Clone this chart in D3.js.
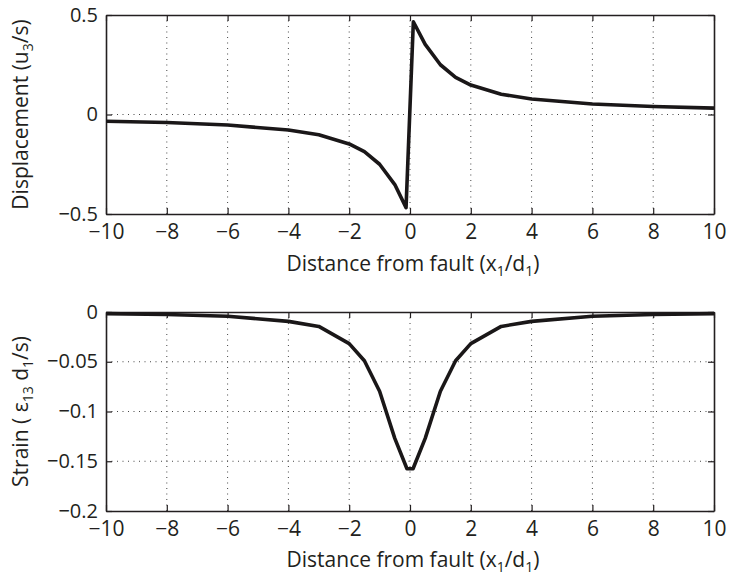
<!DOCTYPE html>
<html><head><meta charset="utf-8">
<script src="https://cdn.jsdelivr.net/npm/d3@7"></script>
<style>body{margin:0;background:#fff}svg{display:block}text{font-family:"Open Sans",sans-serif;fill:#231f20}</style>
</head><body><svg id="c" width="730" height="577"></svg>
<script>
const xVals = [-10,-8,-6,-4,-3,-2,-1.5,-1,-0.5,-0.13,0.11,0.5,1,1.5,2,3,4,6,8,10];
const dispVals = [-0.034,-0.040,-0.053,-0.078,-0.102,-0.148,-0.187,-0.25,-0.352,-0.468,0.466,0.352,0.25,0.187,0.148,0.102,0.078,0.053,0.040,0.032];
const strainX = [-10,-8,-6,-4,-3,-2,-1.5,-1,-0.5,-0.1,0.1,0.5,1,1.5,2,3,4,6,8,10];
const strainVals = [-0.0016,-0.0025,-0.0043,-0.0094,-0.0145,-0.0318,-0.049,-0.0796,-0.127,-0.1575,-0.1575,-0.127,-0.0796,-0.049,-0.0318,-0.0145,-0.0094,-0.0043,-0.0025,-0.0016];
const xTicks = [-10,-8,-6,-4,-2,0,2,4,6,8,10];
const dispTicks = [-0.5,0,0.5];
const strainTicks = [-0.2,-0.15,-0.1,-0.05,0];
const xLabel = "Distance from fault";

const svg = d3.select("#c");
const fmt = v => (v<0?"\u2212":"") + String(Math.abs(v));
const LAB = 21, SUB = 14;

function panel(top, bottom, yDomain, yTicks, xs, ys, ylabelFn, xlabOff){
  const L=106, R=714;
  const x = d3.scaleLinear().domain([-10,10]).range([L,R]);
  const y = d3.scaleLinear().domain(yDomain).range([bottom,top]);
  const g = svg.append("g");
  g.selectAll(".gx").data(xTicks.slice(1,-1)).join("line")
    .attr("x1",d=>x(d)).attr("x2",d=>x(d)).attr("y1",top).attr("y2",bottom)
    .attr("stroke","#444").attr("stroke-width",1).attr("stroke-dasharray","1,4.5");
  g.selectAll(".gy").data(yTicks.slice(1,-1)).join("line")
    .attr("y1",d=>y(d)).attr("y2",d=>y(d)).attr("x1",L).attr("x2",R)
    .attr("stroke","#444").attr("stroke-width",1).attr("stroke-dasharray","1,4.5");
  const ax = g.append("g").attr("transform",`translate(0,${bottom})`)
    .call(d3.axisBottom(x).tickValues(xTicks).tickFormat(fmt).tickSizeInner(-6).tickSizeOuter(0).tickPadding(10));
  const axT = g.append("g").attr("transform",`translate(0,${top})`)
    .call(d3.axisTop(x).tickValues(xTicks).tickFormat("").tickSizeInner(-6).tickSizeOuter(0));
  const ay = g.append("g").attr("transform",`translate(${L},0)`)
    .call(d3.axisLeft(y).tickValues(yTicks).tickFormat(fmt).tickSizeInner(-6).tickSizeOuter(0).tickPadding(8));
  const ayR = g.append("g").attr("transform",`translate(${R},0)`)
    .call(d3.axisRight(y).tickValues(yTicks).tickFormat("").tickSizeInner(-6).tickSizeOuter(0));
  [ax,axT,ay,ayR].forEach(a=>{
    a.select(".domain").attr("stroke","#231f20").attr("stroke-width",1.6);
    a.selectAll(".tick line").attr("stroke","#231f20").attr("stroke-width",1.2);
    a.selectAll("text").attr("fill","#231f20").attr("font-family","'Open Sans',sans-serif");
  });
  ax.selectAll("text").attr("font-size",21);
  ay.selectAll("text").attr("font-size",20).attr("dy","0.3em");
  g.append("path").datum(xs.map((d,i)=>[d,ys[i]]))
    .attr("d",d3.line().x(d=>x(d[0])).y(d=>y(d[1])))
    .attr("fill","none").attr("stroke","#1a1718").attr("stroke-width",3.6).attr("stroke-linejoin","round");
  const t = g.append("text").attr("x",(L+R)/2+3).attr("y",bottom+xlabOff).attr("text-anchor","middle").attr("font-size",LAB);
  t.append("tspan").text(xLabel+" (x");
  t.append("tspan").text("1").attr("font-size",SUB).attr("dy",5);
  t.append("tspan").text("/d").attr("dy",-5);
  t.append("tspan").text("1").attr("font-size",SUB).attr("dy",5);
  t.append("tspan").text(")").attr("dy",-5);
  const yl = g.append("text").attr("transform",`translate(28,${(top+bottom)/2}) rotate(-90)`).attr("text-anchor","middle").attr("font-size",LAB);
  ylabelFn(yl);
}
panel(15,214,[-0.5,0.5],dispTicks,xVals,dispVals,t=>{
  t.append("tspan").text("Displacement (u");
  t.append("tspan").text("3").attr("font-size",SUB).attr("dy",5);
  t.append("tspan").text("/s)").attr("dy",-5);
},57);
panel(312,511,[-0.2,0],strainTicks,strainX,strainVals,t=>{
  t.append("tspan").text("Strain ( \u03b5");
  t.append("tspan").text("13").attr("font-size",SUB).attr("dy",5);
  t.append("tspan").text(" d").attr("dy",-5);
  t.append("tspan").text("1").attr("font-size",SUB).attr("dy",5);
  t.append("tspan").text("/s)").attr("dy",-5);
},56);
</script></body></html>
